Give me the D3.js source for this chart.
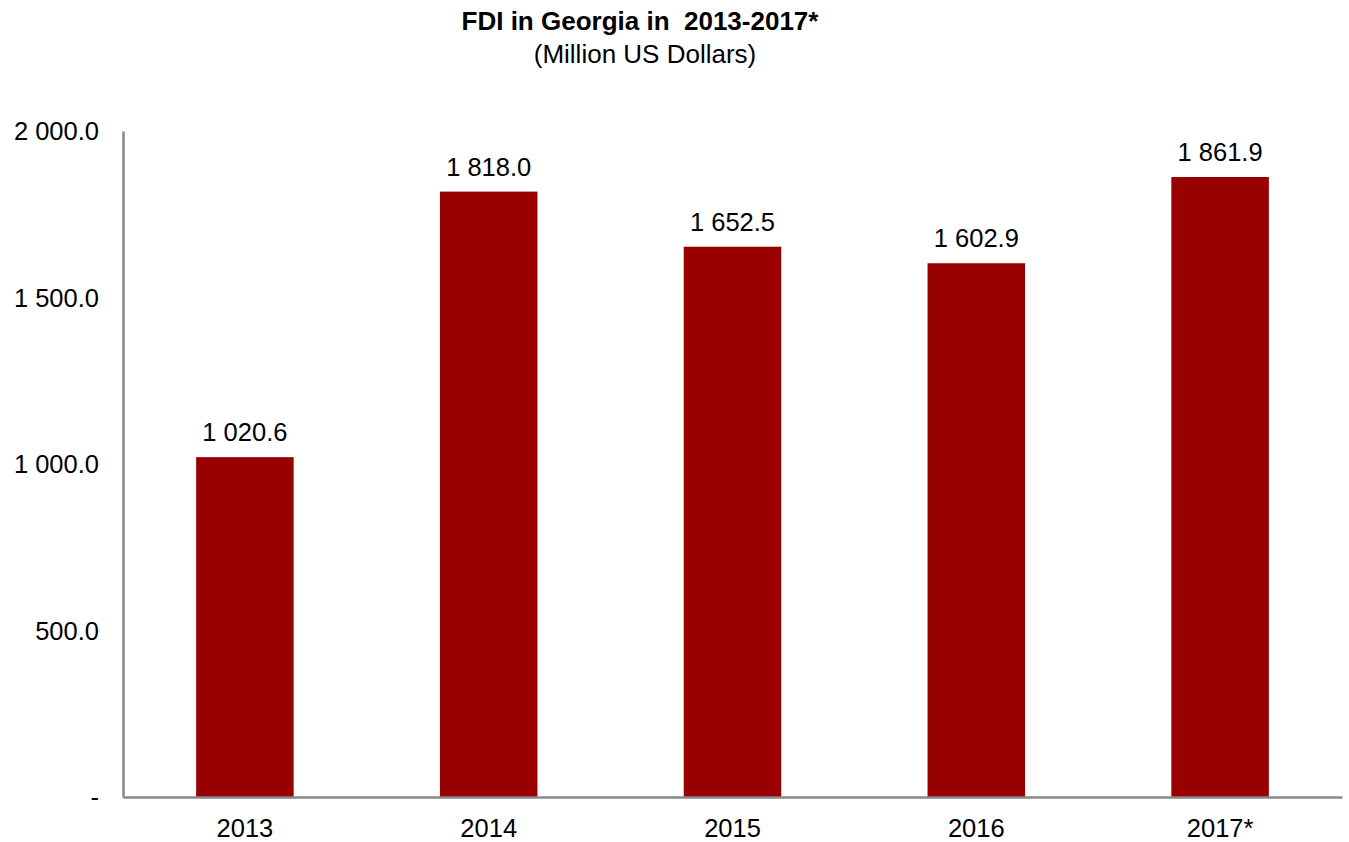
<!DOCTYPE html>
<html>
<head>
<meta charset="utf-8">
<script src="https://cdn.jsdelivr.net/npm/d3@7"></script>
<style>
  body { margin: 0; background: #fff; }
  text { font-family: "Liberation Sans", Arial, sans-serif; fill: #000; }
</style>
</head>
<body>
<div id="chart"></div>
<script>
// Données
const years = ["2013", "2014", "2015", "2016", "2017*"];
const fdi = [1020.6, 1818.0, 1652.5, 1602.9, 1861.9];
const yTicks = [0, 500, 1000, 1500, 2000];

const width = 1349, height = 842;
const margin = {top: 131, right: 7, bottom: 45, left: 123};

const svg = d3.select("#chart").append("svg")
    .attr("width", width)
    .attr("height", height);

// Échelles
const x = d3.scaleBand()
    .domain(years)
    .range([margin.left, width - margin.right])
    .paddingInner(0.6)
    .paddingOuter(0.3);

const y = d3.scaleLinear()
    .domain([0, 2000])
    .range([height - margin.bottom, margin.top]);

// Format "1 818.0"
const fmt = v => v === 0 ? "-" : d3.format(",.1f")(v).replace(/,/g, " ");

// Titre
svg.append("text")
    .attr("x", 640).attr("y", 30)
    .attr("text-anchor", "middle")
    .style("font-size", "26px").style("font-weight", "bold")
    .text("FDI in Georgia in\u00a0 2013-2017*");
svg.append("text")
    .attr("x", 645).attr("y", 63)
    .attr("text-anchor", "middle")
    .style("font-size", "26px")
    .text("(Million US Dollars)");

// Barres
svg.selectAll("rect.bar")
    .data(fdi)
    .enter().append("rect")
    .attr("class", "bar")
    .attr("x", (d, i) => x(years[i]))
    .attr("y", d => y(d))
    .attr("width", x.bandwidth())
    .attr("height", d => y(0) - y(d))
    .attr("fill", "#990000");

// Étiquettes de valeurs
svg.selectAll("text.val")
    .data(fdi)
    .enter().append("text")
    .attr("class", "val")
    .attr("x", (d, i) => x(years[i]) + x.bandwidth() / 2)
    .attr("y", d => y(d) - 16)
    .attr("text-anchor", "middle")
    .style("font-size", "25.5px")
    .text(d => fmt(d));

// Axe Y
const yAxis = svg.append("g")
    .attr("transform", `translate(${margin.left},0)`)
    .call(d3.axisLeft(y).tickValues(yTicks).tickSize(0).tickPadding(24).tickFormat(fmt));
yAxis.select(".domain").attr("stroke", "#888").attr("stroke-width", 2.5);
yAxis.selectAll("text").style("font-size", "25.5px").attr("dy", "0.35em");

// Axe X
const xAxis = svg.append("g")
    .attr("transform", `translate(0,${y(0)})`)
    .call(d3.axisBottom(x).tickSize(0).tickPadding(22));
xAxis.select(".domain").attr("stroke", "#888").attr("stroke-width", 2.5);
xAxis.selectAll("text").style("font-size", "25.5px");
</script>
</body>
</html>
